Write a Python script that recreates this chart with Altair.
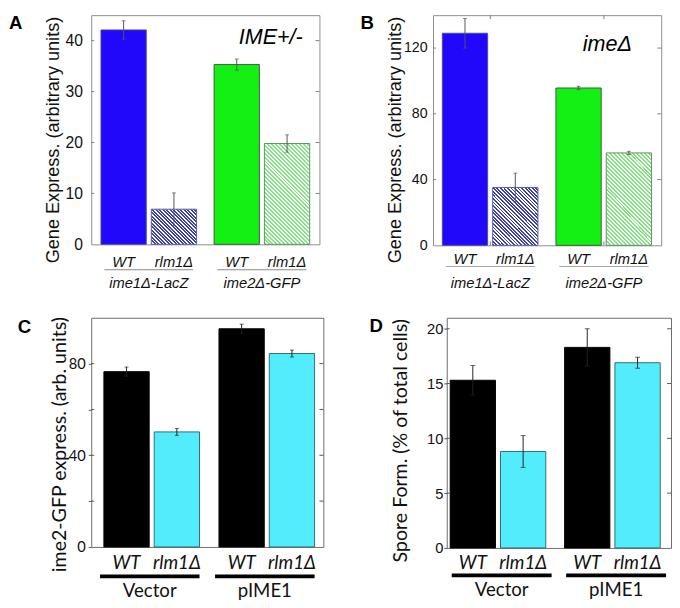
import altair as alt
import pandas as pd

conds = ["WT", "rlm1Δ"]
groups_ab = ["ime1Δ-LacZ", "ime2Δ-GFP"]
groups_cd = ["Vector", "pIME1"]

a_values = [42.1, 6.9, 35.3, 19.8]
a_errors = [1.8, 3.2, 1.1, 1.7]
b_values = [129.0, 35.2, 95.7, 56.2]
b_errors = [9.0, 8.7, 1.0, 1.0]
c_values = [76.5, 50.2, 95.2, 84.4]
c_errors = [2.0, 1.5, 2.0, 1.5]
d_values = [15.3, 8.8, 18.3, 16.9]
d_errors = [1.35, 1.45, 1.7, 0.5]

a_ticks = [0, 10, 20, 30, 40]
b_ticks = [0, 40, 80, 120]
c_ticks = [0, 20, 40, 60, 80]
c_tick_labels = [0, 40, 80]
d_ticks = [0, 5, 10, 15, 20]

a_title = "Gene Express. (arbitrary units)"
b_title = "Gene Express. (arbitrary units)"
c_title = "ime2-GFP express. (arb. units)"
d_title = "Spore Form. (% of total cells)"
a_note = "IME+/-"
b_note = "imeΔ"
letters = ["A", "B", "C", "D"]


def bar_df(groups, values, errors):
    rows = []
    i = 0
    for g in groups:
        for c in conds:
            v, e = values[i], errors[i]
            rows.append(dict(group=g, cond=c, val=v, lo=v - e, hi=v + e))
            i += 1
    return pd.DataFrame(rows)


def stripes(w, h, period, c1, c2):
    n = max(1, round((w + h) / period))
    k = (w + h) / (w * w + h * h)
    stops = []
    for i in range(n):
        a, m, b = i / n, (i + 0.5) / n, (i + 1) / n
        stops += [{"offset": a, "color": c1}, {"offset": m, "color": c1},
                  {"offset": m, "color": c2}, {"offset": b, "color": c2}]
    return {"gradient": "linear", "x1": 0, "y1": 1, "x2": k * w, "y2": 1 - k * h, "stops": stops}


def make_panel(cfg):
    df = bar_df(cfg["groups"], cfg["values"], cfg["errors"])
    W, H = cfg["W"], cfg["H"]
    xs = alt.Scale(domain=cfg["groups"], paddingInner=cfg["pi"], paddingOuter=cfg["po"])
    osc = alt.Scale(domain=conds, paddingInner=cfg["opi"], paddingOuter=0)
    ys = alt.Scale(domain=[0, cfg["ymax"]], nice=False, zero=True)
    X = alt.X("group:N", scale=xs, axis=None, title=None)
    XO = alt.XOffset("cond:N", scale=osc)
    base = alt.Chart(df)

    label_expr = "datum.label"
    if cfg.get("label_ticks") is not None:
        label_expr = f"indexof({cfg['label_ticks']}, datum.value) >= 0 ? datum.label : ''"
    at = cfg["axis_ticks"]
    yaxis = alt.Axis(
        values=cfg["ticks"], labelExpr=label_expr, ticks=at > 0, tickSize=at,
        tickColor=cfg["tick_color"], domain=False, grid=False,
        labelFont=cfg["label_font"], labelFontSize=cfg["label_size"], labelColor="#111",
        labelPadding=cfg["label_pad"],
        titleFont=cfg["title_font"], titleFontSize=cfg["title_size"],
        titleFontWeight="normal", titleColor="#111", titleX=cfg["title_x"], titleY=cfg["title_y"],
        titleBaseline="alphabetic", titleAlign="center",
    )
    T = cfg["title"]

    def Y(field):
        return alt.Y(field, scale=ys, axis=yaxis, title=T)

    layers = []
    solid = base
    if cfg["solid_filter"]:
        solid = solid.transform_filter(alt.datum.cond == "WT")
    ff = cfg["fill_field"]
    layers.append(solid.mark_bar(strokeWidth=1).encode(
        x=X, xOffset=XO, y=Y("val:Q"),
        fill=alt.Fill(f"{ff}:N", scale=alt.Scale(domain=cfg["fill_domain"], range=cfg["fills"]), legend=None),
        stroke=alt.Stroke(f"{ff}:N", scale=alt.Scale(domain=cfg["fill_domain"], range=cfg["strokes"]), legend=None),
    ))
    if cfg.get("hatch"):
        step = W / (2 - cfg["pi"] + 2 * cfg["po"])
        gbw = step * (1 - cfg["pi"])
        ostep = gbw / (2 - cfg["opi"])
        bw = ostep * (1 - cfg["opi"])
        for gi, g in enumerate(cfg["groups"]):
            v = cfg["values"][gi * 2 + 1]
            bh = v / cfg["ymax"] * H
            c1, stroke, period = cfg["hatch"][gi]
            grad = stripes(bw, bh, period, c1, "#ffffff")
            layers.append(base.transform_filter(
                (alt.datum.group == g) & (alt.datum.cond == "rlm1Δ")
            ).mark_bar(fill=grad, stroke=stroke, strokeWidth=1).encode(
                x=X, xOffset=XO, y=Y("val:Q")))
    ec = cfg["err_color"]
    layers.append(base.mark_rule(color=ec, strokeWidth=1).encode(
        x=X, xOffset=XO, y=Y("lo:Q"), y2="hi:Q"))
    layers.append(base.transform_fold(["lo", "hi"], as_=["k", "ev"]).mark_tick(
        color=ec, size=cfg["cap"], thickness=1).encode(
        x=X, xOffset=XO, y=Y("ev:Q")))
    # inner tick marks (left and right)
    tdf = pd.DataFrame({"t": [t for t in cfg["ticks"] if 0 < t < cfg["ymax"]]})
    tch = alt.Chart(tdf)
    tc = cfg["tick_color"]
    layers.append(tch.mark_rule(color=tc).encode(
        y=Y("t:Q"), x=alt.value(0), x2=alt.value(3)))
    layers.append(tch.mark_rule(color=tc).encode(
        y=Y("t:Q"), x=alt.value(W - 4), x2=alt.value(W)))
    if cfg.get("xticks"):
        wt = base.transform_filter(alt.datum.cond == "WT")
        layers.append(wt.mark_rule(color=tc).encode(x=X, y=alt.value(0), y2=alt.value(4)))
        layers.append(wt.mark_rule(color=tc).encode(x=X, y=alt.value(H - 4), y2=alt.value(H)))
    # category labels
    layers.append(base.mark_text(
        font=cfg["x_font"], fontSize=cfg["x_size"], fontStyle="italic", baseline="alphabetic",
        color="#111").encode(x=X, xOffset=XO, y=alt.value(cfg["x_label_y"]), text="cond:N"))
    wt = base.transform_filter(alt.datum.cond == "WT")
    layers.append(wt.mark_bar(color=cfg["ul_color"], width=alt.RelativeBandSize(cfg["ul_band"])).encode(
        x=X, y=alt.value(cfg["ul_y"][0]), y2=alt.value(cfg["ul_y"][1])))
    layers.append(wt.mark_text(
        font=cfg["x_font"], fontSize=cfg["g_size"], fontStyle=cfg["g_style"], baseline="alphabetic",
        color="#111").encode(x=X, y=alt.value(cfg["g_label_y"]), text="group:N"))
    # panel letter
    layers.append(alt.Chart(pd.DataFrame({"t": [cfg["letter"]]})).mark_text(
        font="Liberation Sans", fontSize=19, fontWeight="bold", align="left", baseline="alphabetic",
        color="#000").encode(x=alt.value(cfg["letter_x"]), y=alt.value(cfg["letter_y"]), text="t:N"))
    if cfg.get("note"):
        layers.append(alt.Chart(pd.DataFrame({"t": [cfg["note"]]})).mark_text(
            font="Liberation Sans", fontSize=22, fontStyle="italic", align="right", baseline="alphabetic",
            color="#000").encode(x=alt.value(cfg["note_xy"][0]), y=alt.value(cfg["note_xy"][1]), text="t:N"))
    return alt.layer(*layers).properties(
        width=W, height=H, view=alt.ViewBackground(stroke=cfg["view_stroke"], strokeWidth=1))


ab_common = dict(
    groups=groups_ab, opi=0.1, solid_filter=True, fill_field="group", fill_domain=groups_ab,
    fills=["#2108fa", "#14f014"], strokes=["#4a4a9a", "#3b5e3b"],
    hatch=[("#4040aa", "#5a5aa8", 3.6), ("#7ee27e", "#5f915f", 4.0)],
    axis_ticks=0, tick_color="#808080", label_font="Liberation Sans",
    title_font="Liberation Sans", title_size=18.5, title_y=127,
    err_color="#555555", cap=4, x_font="Liberation Sans", x_size=15, g_size=15, g_style="italic",
    ul_color="#8a8a8a", ul_band=0.93, view_stroke="#8c8c8c",
)
cd_common = dict(
    groups=groups_cd, opi=0.0, solid_filter=False, fill_field="cond", fill_domain=conds,
    fills=["#000000", "#52ecfc"], strokes=["#000000", "#2e6e78"],
    axis_ticks=3, tick_color="#555555", title_font="Lato", title_size=20,
    err_color="#222222", cap=4, x_font="Lato", x_size=19, g_size=19, g_style="normal",
    ul_color="#000000", view_stroke="#6a6a6a",
)

pa = make_panel(dict(ab_common, letter=letters[0], values=a_values, errors=a_errors, ymax=45,
                     ticks=a_ticks, W=233, H=234, pi=0.155, po=0.086, label_size=16, label_pad=9,
                     title=a_title, title_x=-33, x_label_y=257, ul_y=(259.5, 260.5), g_label_y=279,
                     letter_x=-84, letter_y=14.5, note=a_note, note_xy=(216, 29)))
pb = make_panel(dict(ab_common, letter=letters[1], values=b_values, errors=b_errors, ymax=140,
                     ticks=b_ticks, W=233, H=235, pi=0.155, po=0.082, label_size=14.5, label_pad=6,
                     title=b_title, title_x=-33, x_label_y=254, ul_y=(256, 257), g_label_y=279,
                     letter_x=-74, letter_y=14.5, note=b_note, note_xy=(203, 37), xticks=True))
pc = make_panel(dict(cd_common, letter=letters[2], values=c_values, errors=c_errors, ymax=100,
                     ticks=c_ticks, label_ticks=c_tick_labels, W=237, H=234, pi=0.203, po=0.11,
                     label_font="Lato", label_size=15, label_pad=3,
                     title=c_title, title_x=-26, title_y=129, x_label_y=256, ul_y=(262, 266),
                     ul_band=1.085, g_label_y=285, letter_x=-75, letter_y=16))
pd_ = make_panel(dict(cd_common, letter=letters[3], values=d_values, errors=d_errors, ymax=21,
                      ticks=d_ticks, W=229, H=235, pi=0.1, po=0.03,
                      label_font="Liberation Sans", label_size=15, label_pad=1,
                      title=d_title, title_x=-41, title_y=125, x_label_y=256, ul_y=(261, 265),
                      ul_band=0.97, g_label_y=284, letter_x=-79, letter_y=14, cap=5))

row1 = alt.hconcat(pa, pb, spacing=40).resolve_scale(fill="independent", stroke="independent")
row2 = alt.hconcat(pc, pd_, spacing=45).resolve_scale(fill="independent", stroke="independent")
chart = alt.vconcat(row1, row2, spacing=23).resolve_scale(
    fill="independent", stroke="independent"
).properties(padding=0).configure(background="white")

chart.save("out.html", embed_options={"renderer": "svg", "actions": False})
